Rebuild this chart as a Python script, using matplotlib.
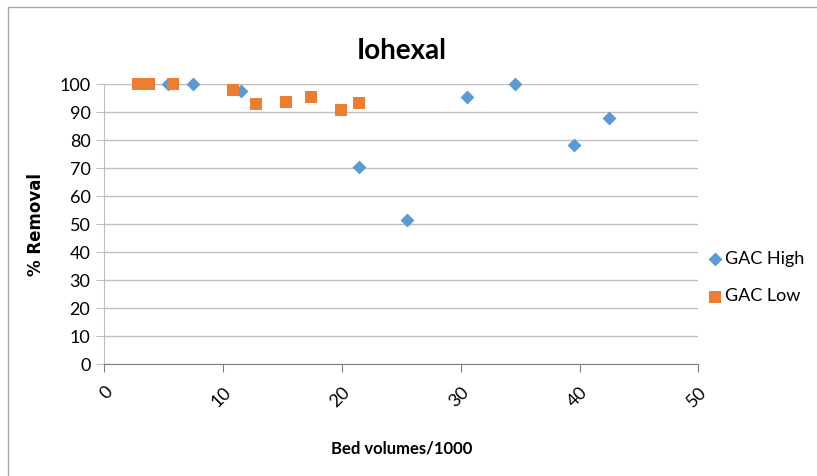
import matplotlib
matplotlib.use("Agg")
import matplotlib.pyplot as plt
from matplotlib.patches import Rectangle

# Data
high_x = [5.4, 7.5, 11.5, 21.4, 25.5, 30.5, 34.6, 39.5, 42.5]
high_y = [100, 100, 97.5, 70.5, 51.7, 95.3, 100, 78.2, 88.0]
low_x = [2.8, 3.8, 5.8, 10.8, 12.8, 15.3, 17.4, 19.9, 21.4]
low_y = [100, 100, 100, 98.0, 93.0, 93.7, 95.3, 90.8, 93.5]
x_ticks = [0, 10, 20, 30, 40, 50]
y_ticks = [0, 10, 20, 30, 40, 50, 60, 70, 80, 90, 100]

plt.rcParams['font.family'] = ['Lato', 'DejaVu Sans']

fig = plt.figure(figsize=(8.17, 4.76), dpi=100)
fig.patches.append(Rectangle((8/817, -0.1), 1.2, (476-7)/476 + 0.1, transform=fig.transFigure,
                             fill=False, edgecolor='#a6a6a6', linewidth=1.0))

ax = fig.add_axes([104.3/817, 1-364.3/476, (698.3-104.3)/817, (364.3-84.3)/476])

ax.scatter(high_x, high_y, marker='D', s=50, color='#5B9BD5', label='GAC High', zorder=3,
           linewidths=0, clip_on=False)
ax.scatter(low_x, low_y, marker='s', s=80, color='#ED7D31', label='GAC Low', zorder=4,
           linewidths=0, clip_on=False)

ax.set_xlim(0, 50)
ax.set_ylim(0, 100)
ax.set_xticks(x_ticks)
ax.set_yticks(y_ticks)
ax.set_xticklabels([str(v) for v in x_ticks], rotation=45, ha='right', va='top', fontsize=13,
                   rotation_mode='anchor')
ax.set_yticklabels([str(v) for v in y_ticks], fontsize=13)
ax.tick_params(axis='x', direction='out', length=6, color='#808080', pad=8)
ax.tick_params(axis='y', direction='out', length=6, color='#bfbfbf', pad=4)
ax.grid(axis='y', color='#bfbfbf', linewidth=1.0)
ax.set_axisbelow(True)
for s in ['top', 'right']:
    ax.spines[s].set_visible(False)
ax.spines['bottom'].set_color('#808080')
ax.spines['left'].set_color('#bfbfbf')

ax.set_title('Iohexal', fontsize=20, fontweight='bold', pad=18)
ax.set_xlabel('Bed volumes/1000', fontsize=12, fontweight='bold', labelpad=22)
ax.set_ylabel('% Removal', fontsize=12, fontweight='bold', family='DejaVu Sans', labelpad=10)

leg = ax.legend(loc='center left', bbox_to_anchor=(1.0, 0.31), frameon=False, fontsize=13,
                handletextpad=0.1, labelspacing=1.2, handlelength=1.0, markerscale=1.0,
                borderaxespad=0.0)

fig.savefig('out.png', dpi=100)
